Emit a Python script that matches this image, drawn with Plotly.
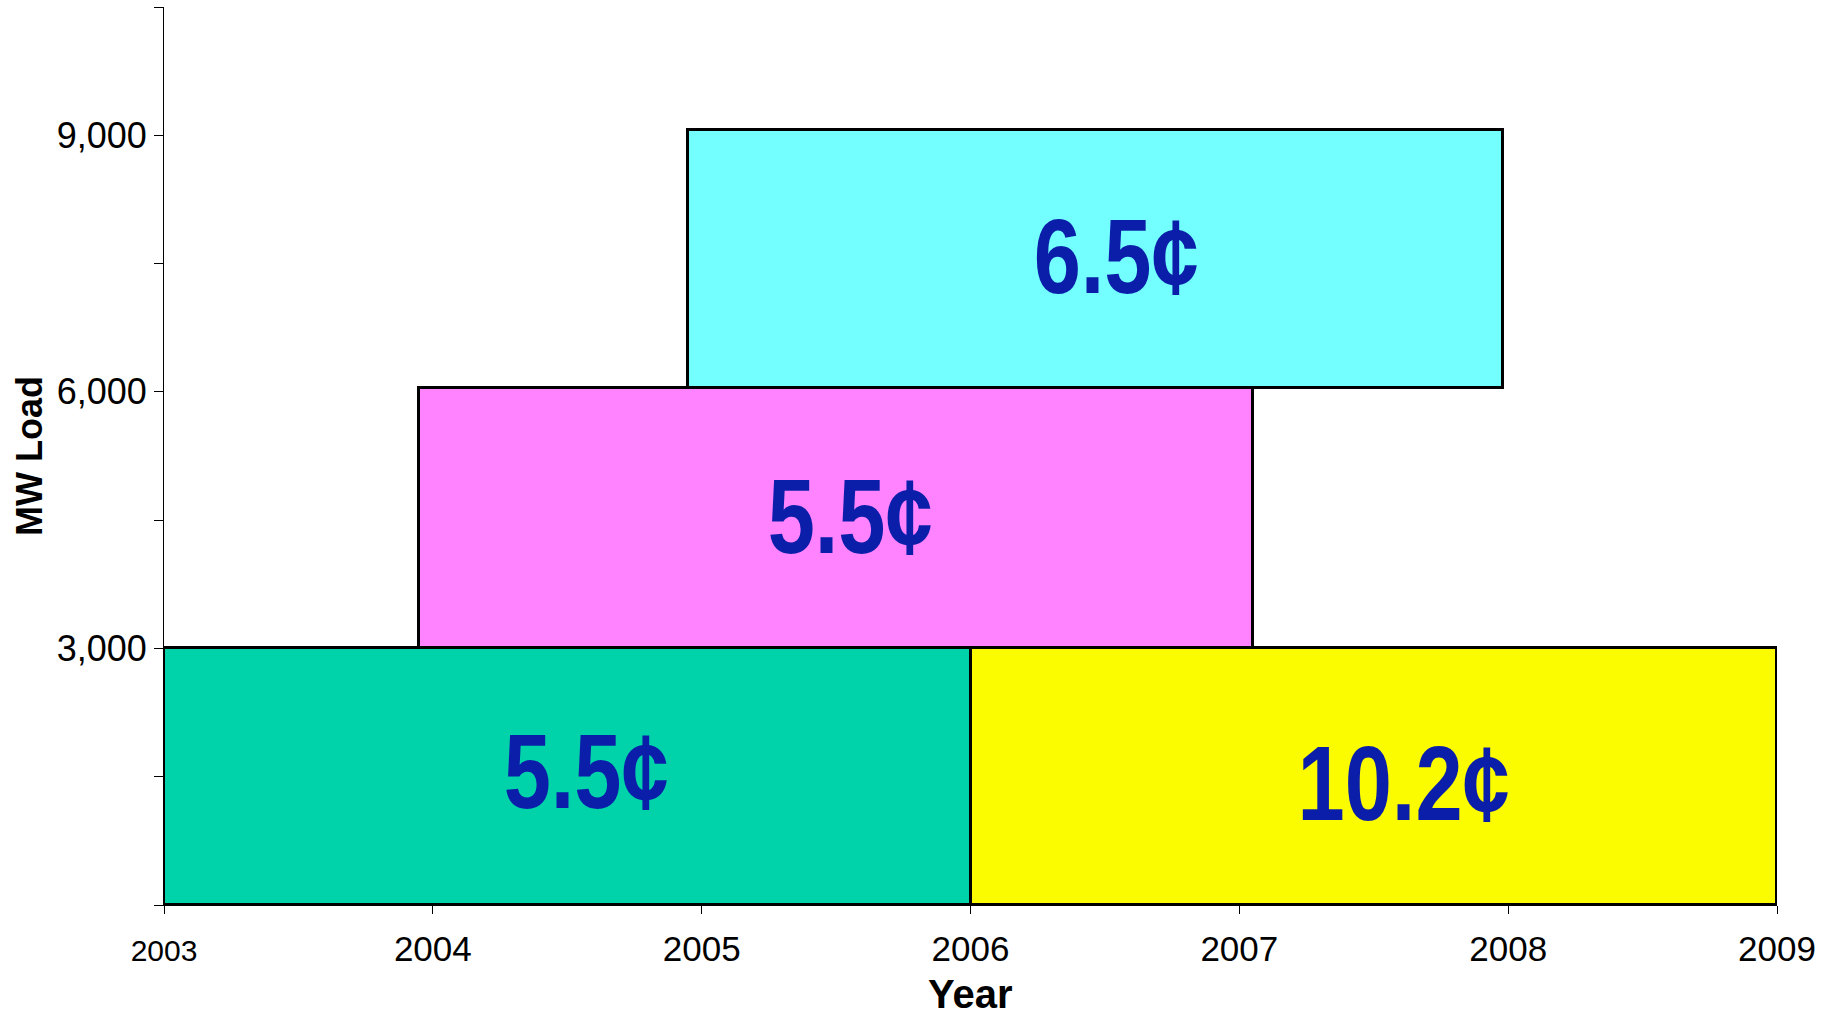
import plotly.graph_objects as go

# ---- data ----
block_start = [2003.0, 2006.0, 2003.95, 2004.95]
block_end = [2006.0, 2009.0, 2007.05, 2007.98]
block_low = [0, 0, 3000, 6050]
block_high = [3000, 3000, 6050, 9060]
price_labels = ["5.5¢", "10.2¢", "5.5¢", "6.5¢"]
label_x = [2004.57, 2007.61, 2005.55, 2006.54]
label_y = [1570, 1430, 4547, 7594]

x_tick_vals = [2003, 2004, 2005, 2006, 2007, 2008, 2009]
x_tick_text = ["<span style='font-size:30px'>2003</span>", "2004", "2005", "2006", "2007", "2008", "2009"]
y_tick_vals = [0, 1500, 3000, 4500, 6000, 7500, 9000, 10500]
y_tick_text = ["", "", "3,000", "", "6,000", "", "9,000", ""]
x_title = "Year"
y_title = "MW Load"

# ---- styles ----
fill_colors = ["#00D2AA", "#FCFC00", "#FF82FF", "#73FFFF"]
label_color = "#0A1EAA"
label_font = "Liberation Sans, Arial, sans-serif"

fig = go.Figure()

centers = [(s + e) / 2 for s, e in zip(block_start, block_end)]
widths = [e - s for s, e in zip(block_start, block_end)]
heights = [h - l for h, l in zip(block_high, block_low)]

fig.add_trace(go.Bar(
    x=centers, y=heights, base=block_low, width=widths,
    marker=dict(color=fill_colors, line=dict(color="black", width=3)),
    hoverinfo="skip", showlegend=False,
))

for tx, ty, t in zip(label_x, label_y, price_labels):
    fig.add_annotation(
        x=tx, y=ty, text=t, showarrow=False,
        font=dict(family=label_font, size=106, color=label_color, weight="bold"),
        xanchor="center", yanchor="middle",
    )

# x-axis title placed below the tick labels
fig.add_annotation(
    x=0.5, xref="paper", y=0, yref="paper", yanchor="top", yshift=-65,
    text="<b>" + x_title + "</b>", showarrow=False,
    font=dict(size=40, color="black"),
)

fig.update_layout(
    width=1845, height=1015,
    margin=dict(l=164, r=68, t=7, b=110),
    plot_bgcolor="white", paper_bgcolor="white",
    font=dict(family="Liberation Sans, Arial, sans-serif", color="black"),
    bargap=0,
    hovermode=False,
)

fig.update_xaxes(
    range=[2003, 2009], tickvals=x_tick_vals, ticktext=x_tick_text,
    showgrid=False, zeroline=False, showline=True, linecolor="black", linewidth=1,
    ticks="outside", ticklen=8, tickcolor="black", tickwidth=1,
    tickfont=dict(size=35), ticklabelstandoff=5, automargin=False,
)
fig.update_yaxes(
    range=[0, 10500], tickvals=y_tick_vals, ticktext=y_tick_text,
    showgrid=False, zeroline=False, showline=True, linecolor="black", linewidth=1,
    ticks="outside", ticklen=9, tickcolor="black", tickwidth=1,
    tickfont=dict(size=36), automargin=False,
    title=dict(text="<b>" + y_title + "</b>", font=dict(size=36), standoff=3),
)

# full-window page (no body margin) and narrow look of the price labels
page_js = """
document.body.style.margin = '0';
document.body.style.overflow = 'hidden';
var gd = document.getElementById('{plot_id}');
gd.querySelectorAll('text.annotation-text').forEach(function(el){
  if (el.textContent.indexOf('\\u00a2') < 0) { return; }
  var bb = el.getBBox();
  var cx = bb.x + bb.width / 2;
  var prev = el.getAttribute('transform') || '';
  el.setAttribute('transform', prev + ' translate(' + cx + ',0) scale(0.8,1) translate(' + (-cx) + ',0)');
});
"""

fig.write_html("out.html", post_script=page_js, config={"displayModeBar": False})
